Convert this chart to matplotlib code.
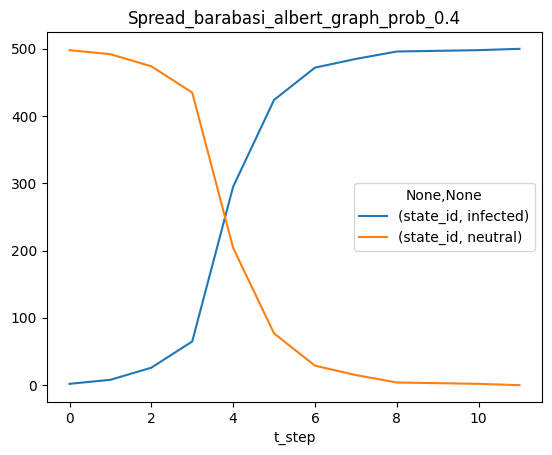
import matplotlib
matplotlib.use('Agg')
import matplotlib.pyplot as plt

t_step = list(range(12))
infected = [2, 8, 26, 65, 295, 424, 472, 485, 496, 497, 498, 500]
neutral = [498, 492, 474, 435, 204, 77, 29, 15, 4, 3, 2, 0]

fig, ax = plt.subplots(figsize=(5.52, 4.55), dpi=100)
fig.subplots_adjust(left=47 / 552, right=542 / 552, top=1 - 32 / 455,
                    bottom=1 - 402 / 455)

ax.plot(t_step, infected, label='(state_id, infected)')
ax.plot(t_step, neutral, label='(state_id, neutral)')

ax.set_title('Spread_barabasi_albert_graph_prob_0.4')
ax.set_xlabel('t_step')
ax.legend(title='None,None', loc='center right')

fig.savefig('out.png')
